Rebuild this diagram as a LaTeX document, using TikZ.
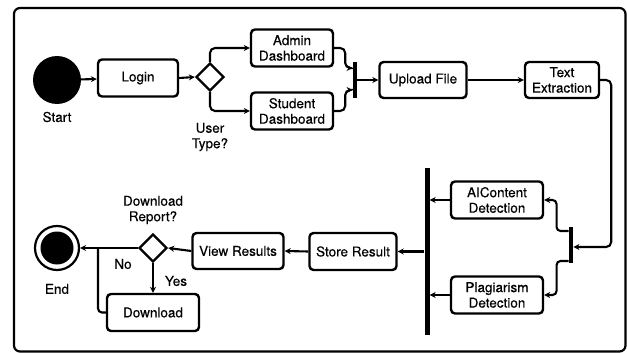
\documentclass[tikz,border=0pt]{standalone}
\usepackage{fontspec}
\setmainfont{TeX Gyre Heros}[FakeBold=0.4]
\usetikzlibrary{shapes.geometric,arrows.meta,calc}
\begin{document}
\begin{tikzpicture}[x=1pt,y=-1pt,
  every node/.style={font=\fontsize{13.5}{15.5}\selectfont, text=black},
  actbox/.style={draw, line width=2.4pt, rounded corners=4pt, align=center, inner sep=0pt},
  bar/.style={fill=black, draw=none, inner sep=0pt, minimum width=4.5pt},
  decis/.style={diamond, draw, line width=2.4pt, inner sep=0pt, minimum width=28pt, minimum height=28pt, fill=white},
  lbl/.style={align=center},
  conn/.style={line width=2.1pt, -{Stealth[length=6pt,width=6pt]}},
  plain/.style={line width=2.1pt}
]
\useasboundingbox (0,0) rectangle (627,353);
\draw[line width=2.2pt, rounded corners=6pt] (14,8) rectangle (625.5,351.5);

% nodes
\node[circle, fill=black, minimum size=48pt, inner sep=0pt] (start) at (57,80) {};
\node[lbl] (startlbl) at (57,117) {Start};
\node[actbox, minimum width=80pt, minimum height=37pt] (login) at (138,78) {Login};
\node[decis] (dec1) at (210,77) {};
\node[lbl] (dec1lbl) at (210,137) {User\\Type?};
\node[actbox, minimum width=82pt, minimum height=37pt] (admin) at (292,48) {Admin\\Dashboard};
\node[actbox, minimum width=82pt, minimum height=37pt] (student) at (292,111) {Student\\Dashboard};
\node[bar, minimum height=36pt] (join1) at (355,80) {};
\node[actbox, minimum width=87pt, minimum height=36pt] (upload) at (423,80) {Upload File};
\node[actbox, minimum width=74pt, minimum height=36pt] (textx) at (562,80) {Text\\Extraction};
\node[bar, minimum height=36pt] (fork2) at (571,245) {};
\node[actbox, minimum width=92pt, minimum height=37pt] (ai) at (497,200) {AIContent\\Detection};
\node[actbox, minimum width=92pt, minimum height=37pt] (plag) at (497,295) {Plagiarism\\Detection};
\node[bar, minimum width=5pt, minimum height=167pt] (join2) at (427,251.5) {};
\node[actbox, minimum width=87pt, minimum height=37pt] (store) at (353,251.5) {Store Result};
\node[actbox, minimum width=91pt, minimum height=36pt] (view) at (238,251) {View Results};
\node[decis] (dec2) at (153,248) {};
\node[lbl] (dec2lbl) at (153,210) {Download\\Report?};
\node[circle, draw, line width=2.2pt, minimum size=44pt, inner sep=0pt] (endnode) at (57,248) {};
\node[circle, fill=black, minimum size=33pt, inner sep=0pt] (endcore) at (57,248) {};
\node[lbl] (endlbl) at (57,289) {End};
\node[actbox, minimum width=92pt, minimum height=37pt] (download) at (153,312.5) {Download};
\node[lbl] (nolbl) at (123,264) {No};
\node[lbl] (yeslbl) at (176,281) {Yes};
\coordinate (nojoin) at (98,248);

% connectors
\draw[conn] (start) -- (login);
\draw[conn] (login.east) -- (dec1.west);
\draw[conn, rounded corners=5pt] (dec1.north) |- (admin.west);
\draw[conn, rounded corners=5pt] (dec1.south) |- (student.west);
\draw[conn, rounded corners=5pt] (admin.east) -- ++(11,0) |- ([yshift=12pt]join1.west);
\draw[conn, rounded corners=5pt] (student.east) -- ++(11,0) |- ([yshift=-10pt]join1.west);
\draw[conn] (join1.east) -- (upload.west);
\draw[conn] (upload.east) -- (textx.west);
\draw[conn, rounded corners=5pt] (textx.east) -- ++(11,0) |- ([yshift=-2pt]fork2.east);
\draw[conn, rounded corners=4pt] ([yshift=14pt]fork2.west) -- ++(-12,0) |- (ai.east);
\draw[conn, rounded corners=4pt] ([yshift=-16pt]fork2.west) -- ++(-12,0) |- (plag.east);
\draw[conn] (ai.west) -- (ai.west -| join2.east);
\draw[conn] (plag.west) -- (plag.west -| join2.east);
\draw[conn] (join2.west |- store.east) -- (store.east);
\draw[conn] (store.west) -- (view.east);
\draw[conn] (view.west) -- (dec2.east);
\draw[conn] (dec2.west) -- (endnode.east);
\draw[conn] (dec2.south) -- (download.north);
\draw[plain, rounded corners=4pt] (download.west) -| (nojoin);
\end{tikzpicture}
\end{document}
